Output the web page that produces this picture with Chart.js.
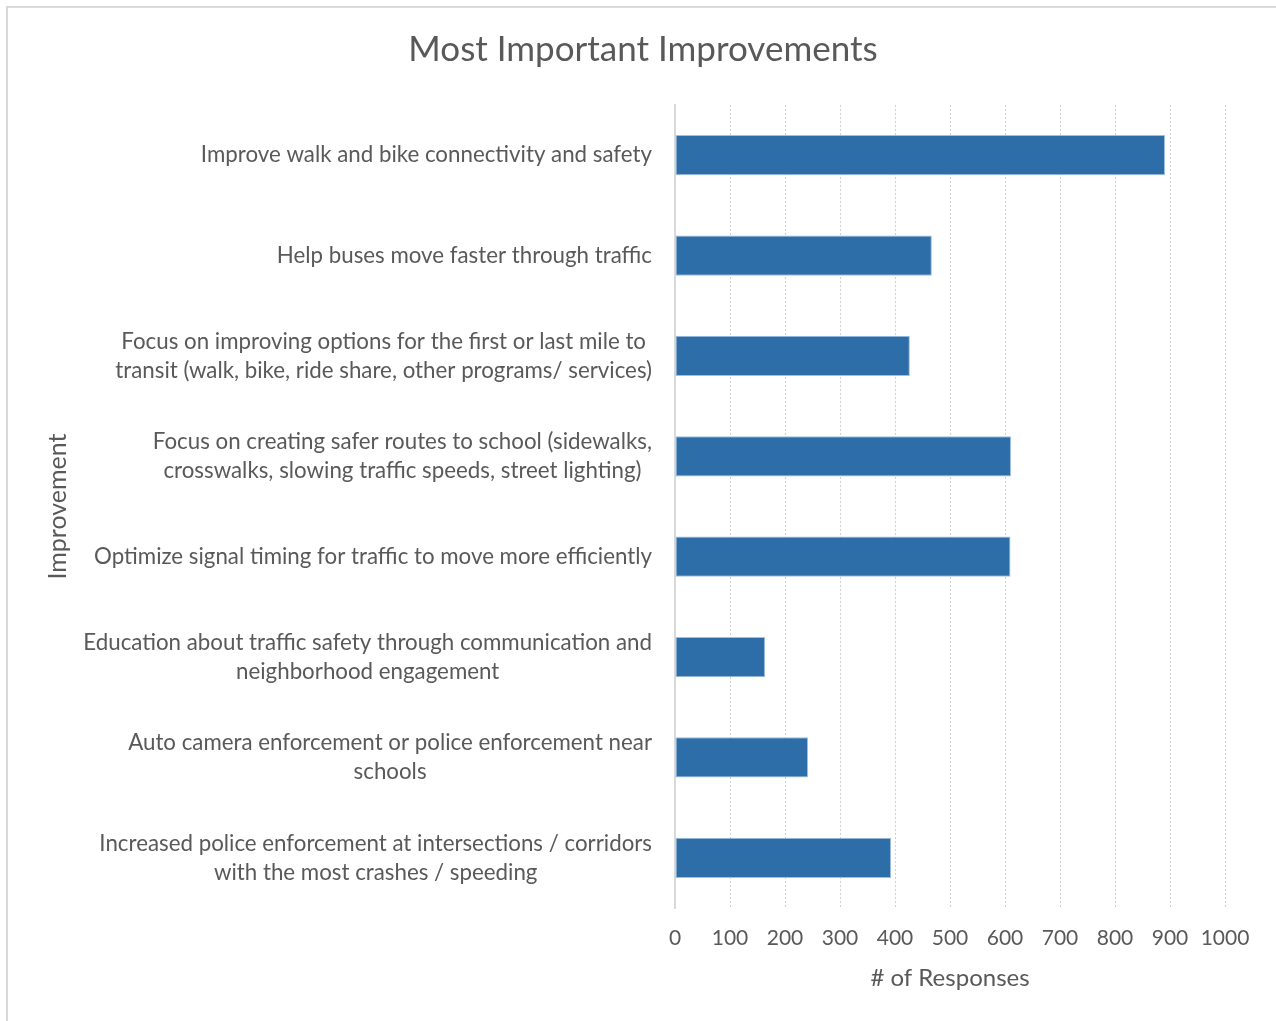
<!DOCTYPE html>
<html>
<head>
<meta charset="utf-8">
<script src="https://cdn.jsdelivr.net/npm/chart.js@4"></script>
<style>
    body { margin: 0; background: #fff; }
    #frame {
        position: absolute; left: 6px; top: 6px; width: 1290px; height: 1030px;
        border-left: 2px solid #d9d9d9; border-top: 2px solid #d9d9d9;
    }
    #chart { position: absolute; left: 0; top: 0; }
</style>
</head>
<body>
<div id="frame"></div>
<canvas id="chart" width="1276" height="1021"></canvas>
<script>
// category labels, one entry per bar (lines as Excel wrapped them)
const categories = [
    ['Improve walk and bike connectivity and safety'],
    ['Help buses move faster through traffic'],
    ['Focus on improving options for the first or last mile to', 'transit (walk, bike, ride share, other programs/ services)'],
    ['Focus on creating safer routes to school (sidewalks,', 'crosswalks, slowing traffic speeds, street lighting)'],
    ['Optimize signal timing for traffic to move more efficiently'],
    ['Education about traffic safety through communication and', 'neighborhood engagement'],
    ['Auto camera enforcement or police enforcement near', 'schools'],
    ['Increased police enforcement at intersections / corridors', 'with the most crashes / speeding']
];
const responses = [891, 467, 427, 611, 610, 164, 242, 393];
const xMin = 0, xMax = 1000, xStep = 100;

const FONT = 'Lato, "Open Sans", sans-serif';
const GREY = '#595959';

// y labels: block right-aligned against the axis, lines centred inside the block (Excel style)
const yLabelPlugin = {
    id: 'yLabels',
    afterDraw(chart) {
        const ctx = chart.ctx;
        const ys = chart.scales.y;
        const lineH = 29;
        ctx.save();
        ctx.font = '22.3px ' + FONT;
        ctx.fillStyle = GREY;
        ctx.textAlign = 'center';
        ctx.textBaseline = 'middle';
        categories.forEach((lines, i) => {
            const yc = ys.getPixelForTick(i);
            const w = Math.max(...lines.map(l => ctx.measureText(l).width));
            const xc = ys.right - 23 - w / 2;
            lines.forEach((l, j) => {
                ctx.fillText(l, xc, yc + (j - (lines.length - 1) / 2) * lineH);
            });
        });
        ctx.restore();
    }
};

new Chart(document.getElementById('chart'), {
    type: 'bar',
    data: {
        labels: categories,
        datasets: [{
            label: '# of Responses',
            data: responses,
            backgroundColor: '#2d6ea8',
            borderColor: '#9fbfe0',
            borderWidth: 1,
            borderSkipped: false,
            categoryPercentage: 1,
            barPercentage: 0.4
        }]
    },
    options: {
        indexAxis: 'y',
        responsive: false,
        animation: false,
        devicePixelRatio: 1,
        layout: { padding: { left: 10, right: 0, top: 0, bottom: 0 } },
        plugins: {
            legend: { display: false },
            tooltip: { enabled: false },
            title: {
                display: true,
                text: 'Most Important Improvements',
                color: GREY,
                font: { family: FONT, size: 35, weight: 'normal' },
                padding: { top: 29, bottom: 34 }
            }
        },
        scales: {
            x: {
                min: xMin,
                max: xMax,
                afterFit: s => { s.height = 113; },
                ticks: {
                    stepSize: xStep,
                    color: GREY,
                    font: { family: FONT, size: 21 },
                    padding: 18,
                    maxRotation: 0,
                    callback: v => String(v)
                },
                grid: { color: '#cfcfcf', lineWidth: 1, drawTicks: false },
                border: { display: false, dash: [2, 2] },
                title: {
                    display: true,
                    text: '# of Responses',
                    color: GREY,
                    font: { family: FONT, size: 24 },
                    padding: { top: 0, bottom: 28 }
                }
            },
            y: {
                afterFit: s => { s.width = 665; },
                ticks: { display: false },
                grid: { display: false, drawTicks: false },
                border: { display: true, color: '#d9d9d9', width: 2 },
                title: {
                    display: true,
                    text: 'Improvement',
                    color: GREY,
                    font: { family: FONT, size: 25 },
                    padding: { top: 33, bottom: 0 }
                }
            },
            // empty right-hand box that keeps the plot area short of the right edge
            pad: {
                type: 'linear',
                position: 'right',
                afterFit: s => { s.width = 51; },
                ticks: { display: false },
                grid: { display: false, drawTicks: false },
                border: { display: false }
            }
        }
    },
    plugins: [yLabelPlugin]
});
</script>
</body>
</html>
